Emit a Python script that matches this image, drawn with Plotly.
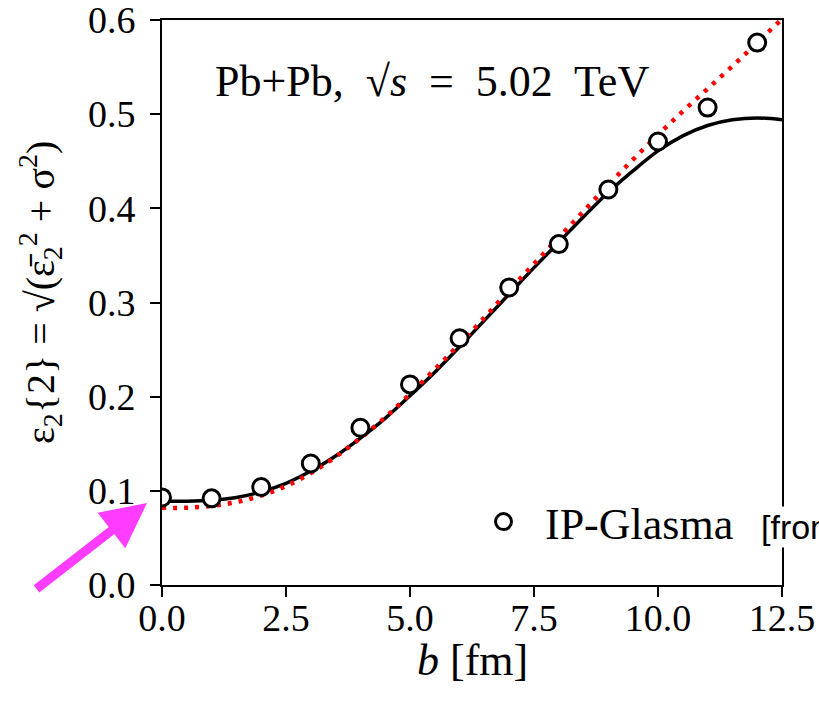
import plotly.graph_objects as go

# ---- data ----
b_points = [0, 1, 2, 3, 4, 5, 6, 7, 8, 9, 10, 11, 12]
eps_points = [0.093, 0.092, 0.104, 0.129, 0.167, 0.213, 0.262, 0.316, 0.362, 0.420, 0.471, 0.507, 0.576]

b_curve = [0.0, 0.5, 1.0, 1.5, 2.0, 2.5, 3.0, 3.5, 4.0, 4.5, 5.0, 5.5, 6.0,
           6.5, 7.0, 7.5, 8.0, 8.5, 9.0, 9.5, 10.0, 10.5, 11.0, 11.5, 12.0, 12.5]
eps_solid = [0.089, 0.089, 0.090, 0.093, 0.099, 0.108, 0.121, 0.137, 0.156, 0.177, 0.201, 0.226, 0.253,
             0.281, 0.309, 0.337, 0.364, 0.391, 0.417, 0.440, 0.461, 0.477, 0.488, 0.494, 0.496, 0.494]
eps_dotted = [0.082, 0.082, 0.084, 0.088, 0.095, 0.105, 0.119, 0.136, 0.156, 0.178, 0.203, 0.229, 0.256,
              0.284, 0.313, 0.341, 0.369, 0.397, 0.425, 0.452, 0.478, 0.503, 0.527, 0.551, 0.576, 0.601]

x_tick_vals = [0, 2.5, 5, 7.5, 10, 12.5]
x_tick_text = ["0.0", "2.5", "5.0", "7.5", "10.0", "12.5"]
y_tick_vals = [0, 0.1, 0.2, 0.3, 0.4, 0.5, 0.6]
y_tick_text = ["0.0", "0.1", "0.2", "0.3", "0.4", "0.5", "0.6"]

SERIF = "Liberation Serif, Times New Roman, serif"

fig = go.Figure()
fig.add_trace(go.Scatter(x=b_curve, y=eps_solid, mode="lines", line=dict(color="black", width=3.5, shape="spline"),
                         showlegend=False, hoverinfo="skip"))
fig.add_trace(go.Scatter(x=b_curve, y=eps_dotted, mode="lines",
                         line=dict(color="#ff0000", width=4.5, dash="4px,7px", shape="spline"),
                         showlegend=False, hoverinfo="skip"))
fig.add_trace(go.Scatter(x=b_points, y=eps_points, mode="markers", name="IP-Glasma",
                         marker=dict(symbol="circle", size=17, color="white", line=dict(color="black", width=3))))

L, R, T, B = 162, 37, 20, 119
W, H = 819, 704
pw, ph = W - L - R, H - T - B

def px(x):
    return (x - L) / pw

def py(y):
    return (H - B - y) / ph

axis_common = dict(showline=True, mirror=True, linecolor="black", linewidth=2,
                   ticks="outside", ticklen=10, tickwidth=2, tickcolor="black",
                   showgrid=False, zeroline=False, automargin=False,
                   ticklabeloverflow="allow",
                   tickfont=dict(family=SERIF, size=38))

fig.update_layout(
    width=W, height=H,
    margin=dict(l=L, r=R, t=T, b=B),
    paper_bgcolor="white", plot_bgcolor="white",
    font=dict(family=SERIF, size=36, color="black"),
    xaxis=dict(range=[0, 12.5], tickvals=x_tick_vals, ticktext=x_tick_text,
               ticklabelstandoff=-12, **axis_common),
    yaxis=dict(range=[0, 0.6], tickvals=y_tick_vals, ticktext=y_tick_text,
               ticklabelstandoff=7, **axis_common),
    legend=dict(x=px(462), y=py(522), xanchor="left", yanchor="middle", itemwidth=73,
                bgcolor="rgba(0,0,0,0)", font=dict(family=SERIF, size=44)),
    showlegend=True,
)

fig.add_annotation(x=px(213), y=py(82), xref="paper", yref="paper", xanchor="left", yanchor="middle",
                   text="Pb+Pb,  √<i>s</i>  =  5.02  TeV", showarrow=False, font=dict(size=44))
fig.add_annotation(x=0.5, y=py(660), xref="paper", yref="paper", xanchor="center", yanchor="middle",
                   text="<i>b</i> [fm]", showarrow=False, font=dict(size=44))
fig.add_annotation(x=px(40), y=py(293), xref="paper", yref="paper", xanchor="center", yanchor="middle",
                   text="ε<sub>2</sub>{2} = √(ε̄<sub>2</sub><sup>2</sup> + σ<sup>2</sup>)", textangle=-90,
                   showarrow=False, font=dict(size=40))
fig.add_annotation(x=px(759), y=py(527), xref="paper", yref="paper", xanchor="left", yanchor="middle",
                   text="[from", showarrow=False, bgcolor="white",
                   font=dict(family="Liberation Sans, Arial, sans-serif", size=34))
fig.add_annotation(x=px(147), y=py(503), xref="paper", yref="paper", ax=-112, ay=87,
                   text="", showarrow=True, arrowhead=2, arrowsize=1.0, arrowwidth=9, arrowcolor="#ff3cff")

fig.write_html("out.html")
